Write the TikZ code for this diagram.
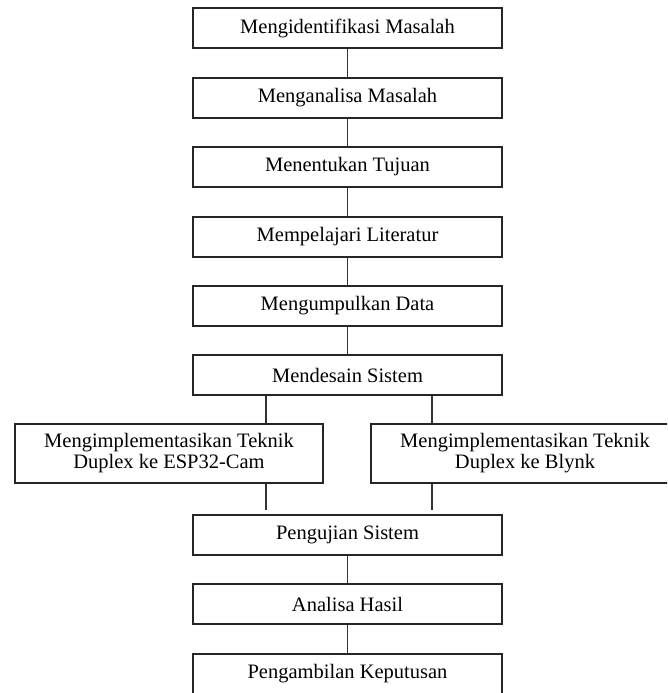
\documentclass[tikz,border=0pt]{standalone}
\usepackage{fontspec}
\setmainfont{Liberation Serif}
\begin{document}
\begin{tikzpicture}[x=1pt,y=-1pt,
  box/.style={draw=black!85, line width=2pt, minimum width=309pt, minimum height=40pt, inner sep=0pt, align=center, font=\fontsize{20.5}{21}\selectfont},
  sidebox/.style={box, minimum width=308pt, minimum height=59pt},
  conn/.style={draw=black!80, line width=1.8pt}]
\clip (0,0) rectangle (667,693);
\fill[white] (0,0) rectangle (667,693);
\node[box] (b1) at (347.5,28) {Mengidentifikasi Masalah};
\node[box] (b2) at (347.5,98) {Menganalisa Masalah};
\node[box] (b3) at (347.5,167) {Menentukan Tujuan};
\node[box] (b4) at (347.5,236.5) {Mempelajari Literatur};
\node[box] (b5) at (347.5,306) {Mengumpulkan Data};
\node[box] (b6) at (347.5,375) {Mendesain Sistem};
\node[sidebox] (sl) at (169,453.5) {Mengimplementasikan Teknik\\Duplex ke ESP32-Cam};
\node[sidebox] (sr) at (525,453.5) {Mengimplementasikan Teknik\\Duplex ke Blynk};
\node[box] (b7) at (347.5,535) {Pengujian Sistem};
\node[box] (b8) at (347.5,604) {Analisa Hasil};
\node[box] (b9) at (347.5,674) {Pengambilan Keputusan};
\coordinate (xl) at (266,0);
\coordinate (xr) at (432,0);
\draw[conn] (b1) -- (b2);
\draw[conn] (b2) -- (b3);
\draw[conn] (b3) -- (b4);
\draw[conn] (b4) -- (b5);
\draw[conn] (b5) -- (b6);
\draw[conn] (b6.south -| xl) -- (sl.north -| xl);
\draw[conn] (b6.south -| xr) -- (sr.north -| xr);
\draw[conn, shorten >=4pt] (sl.south -| xl) -- (b7.north -| xl);
\draw[conn, shorten >=4pt] (sr.south -| xr) -- (b7.north -| xr);
\draw[conn] (b7) -- (b8);
\draw[conn] (b8) -- (b9);
\end{tikzpicture}
\end{document}
